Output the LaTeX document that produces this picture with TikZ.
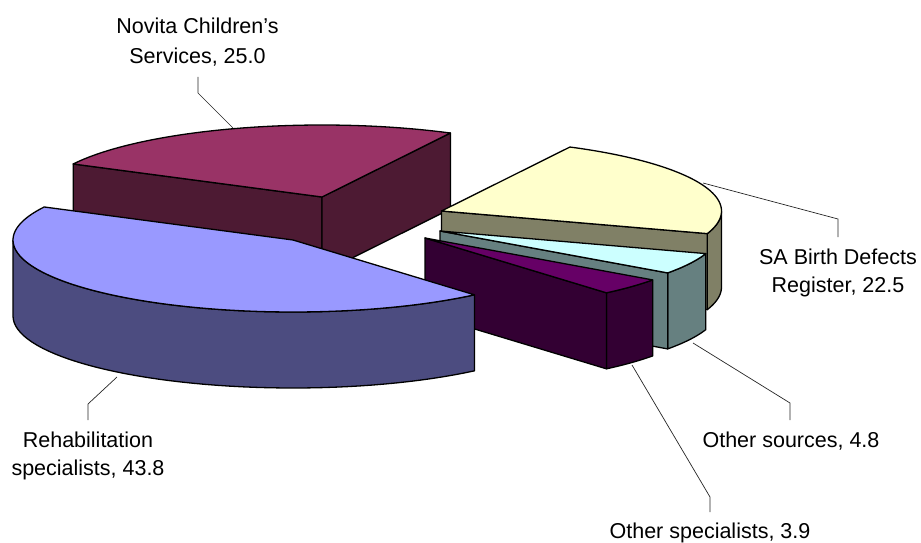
\documentclass[tikz,border=0pt]{standalone}
\usepackage{fontspec}
\setmainfont{Liberation Sans}
\definecolor{blueTop}{HTML}{9999FF}
\definecolor{blueSide}{HTML}{4C4C80}
\definecolor{magTop}{HTML}{993366}
\definecolor{magSide}{HTML}{4D1A33}
\definecolor{yelTop}{HTML}{FFFFCC}
\definecolor{yelSide}{HTML}{808066}
\definecolor{cyaTop}{HTML}{CCFFFF}
\definecolor{cyaSide}{HTML}{668080}
\definecolor{purTop}{HTML}{660066}
\definecolor{purSide}{HTML}{330033}
\tikzset{
  face/.style={draw=black, line width=1.3pt, line join=round},
  leader/.style={draw=black!85, line width=0.7pt},
  lbl/.style={font=\fontsize{21.5}{28}\selectfont, align=center, inner sep=0pt, anchor=north},
}
\newcommand{\pieRx}{280}
\newcommand{\pieRy}{72}
\newcommand{\pieH}{76}
% radial face: apex x, apex y, angle
\newcommand{\radface}[4]{%
  \filldraw[face, fill=#4] (#1,#2) -- ({#1+\pieRx*cos(#3)},{#2-\pieRy*sin(#3)})
    -- ({#1+\pieRx*cos(#3)},{#2+\pieH-\pieRy*sin(#3)}) -- (#1,{#2+\pieH}) -- cycle;}
% cylinder face: apex x, apex y, from angle, to angle
\newcommand{\cylface}[5]{%
  \filldraw[face, fill=#5] plot[domain=#3:#4, samples=50] ({#1+\pieRx*cos(\x)},{#2-\pieRy*sin(\x)})
    -- plot[domain=#4:#3, samples=50] ({#1+\pieRx*cos(\x)},{#2+\pieH-\pieRy*sin(\x)}) -- cycle;}
% top face: apex x, apex y, from, to
\newcommand{\topface}[5]{%
  \filldraw[face, fill=#5] (#1,#2) -- plot[domain=#3:#4, samples=80] ({#1+\pieRx*cos(\x)},{#2-\pieRy*sin(\x)}) -- cycle;}
\begin{document}
\begin{tikzpicture}[x=1pt, y=-1pt]
\useasboundingbox (0,0) rectangle (921,543);
% leader coordinates
\coordinate (novA) at (234,129);
\coordinate (novB) at (198,93);
\coordinate (novC) at (198,77);
\coordinate (saA) at (703,183);
\coordinate (saB) at (838,219);
\coordinate (saC) at (838,237);
\coordinate (osA) at (693,343);
\coordinate (osB) at (790,403);
\coordinate (osC) at (790,420);
\coordinate (spA) at (632,365);
\coordinate (spB) at (710,497);
\coordinate (spC) at (710,512);
\coordinate (rhA) at (117,377);
\coordinate (rhB) at (88,404);
\coordinate (rhC) at (88,420);
\draw[leader] (novA) -- (novB) -- (novC);
\draw[leader] (saA) -- (saB) -- (saC);
\draw[leader] (osA) -- (osB) -- (osC);
\draw[leader] (spA) -- (spB) -- (spC);
\draw[leader] (rhA) -- (rhB) -- (rhC);
% Novita Children's Services (back)
\radface{322}{197}{152.7}{magSide}
\radface{322}{197}{62.7}{magSide}
\topface{322}{197}{152.7}{62.7}{magTop}
% SA Birth Defects Register
\cylface{441.5}{211}{0}{-18.3}{yelSide}
\radface{441.5}{211}{-18.3}{yelSide}
\topface{441.5}{211}{62.7}{-18.3}{yelTop}
% Other sources
\cylface{440}{231}{-18.3}{-35.6}{cyaSide}
\radface{440}{231}{-35.6}{cyaSide}
\topface{440}{231}{-18.3}{-35.6}{cyaTop}
% Other specialists
\cylface{425}{238}{-35.6}{-49.6}{purSide}
\radface{425}{238}{-49.6}{purSide}
\topface{425}{238}{-35.6}{-49.6}{purTop}
% Rehabilitation specialists (front)
\cylface{293}{240}{180}{310.4}{blueSide}
\topface{293}{240}{152.7}{310.4}{blueTop}
% labels
\node[lbl, font=\fontsize{21.5}{30}\selectfont] (novita) at (197.5,17.5) {Novita Children’s\\Services, 25.0};
\node[lbl] (sabd) at (838,248.5) {SA Birth Defects\\Register, 22.5};
\node[lbl] (others) at (791,431.5) {Other sources, 4.8};
\node[lbl] (otherspec) at (710,522.5) {Other specialists, 3.9};
\node[lbl] (rehab) at (88,431.5) {Rehabilitation\\specialists, 43.8};
\end{tikzpicture}
\end{document}
